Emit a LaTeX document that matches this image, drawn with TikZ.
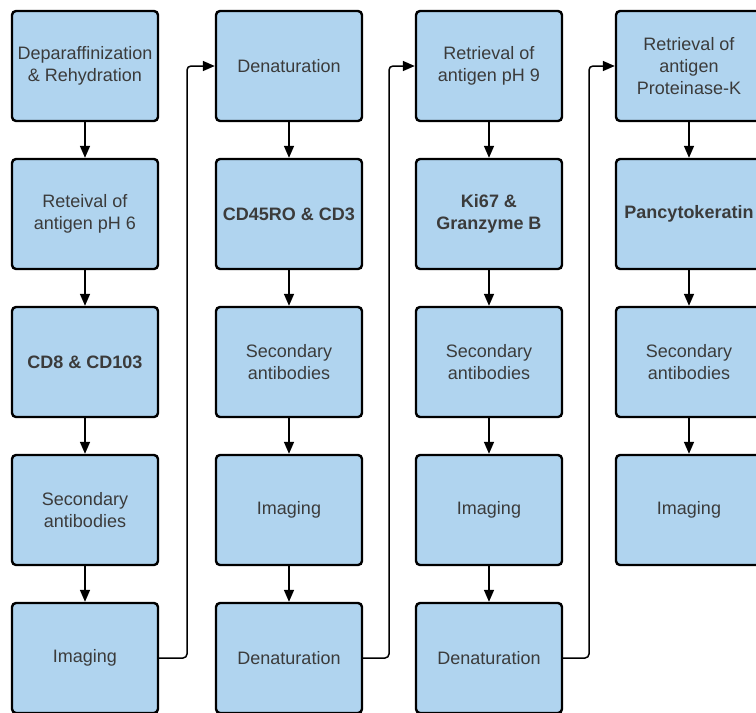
\documentclass[tikz,border=0pt]{standalone}
\usepackage{fontspec}
\setmainfont{Liberation Sans}
\usetikzlibrary{arrows.meta,calc}
\definecolor{boxfill}{HTML}{B0D4EF}
\definecolor{txt}{HTML}{3B3B3B}
\tikzset{
  stepbox/.style={draw=black, fill=boxfill, line width=2.4pt, rounded corners=4pt,
    minimum width=146pt, minimum height=110pt, inner sep=2pt, align=center,
    text=txt, font=\fontsize{18}{22}\selectfont},
  boldbox/.style={stepbox, font=\fontsize{18}{22}\selectfont\bfseries},
  conn/.style={line width=1.5pt, -{Triangle[length=12pt,width=10pt]}},
  route/.style={conn, rounded corners=4pt}
}
\begin{document}
\begin{tikzpicture}[x=1pt,y=-1pt]
\useasboundingbox (0,0) rectangle (756,713);
% column 1
\node[stepbox] (a1) at (85,66) {Deparaffinization\\\& Rehydration};
\node[stepbox] (a2) at (85,214) {Reteival of\\antigen pH 6};
\node[boldbox] (a3) at (85,362) {CD8 \& CD103};
\node[stepbox] (a4) at (85,510) {Secondary\\antibodies};
\node[stepbox] (a5) at (85,658) {Imaging};
% column 2
\node[stepbox] (b1) at (289,66) {Denaturation};
\node[boldbox] (b2) at (289,214) {CD45RO \& CD3};
\node[stepbox] (b3) at (289,362) {Secondary\\antibodies};
\node[stepbox] (b4) at (289,510) {Imaging};
\node[stepbox] (b5) at (289,658) {Denaturation};
% column 3
\node[stepbox] (c1) at (489,66) {Retrieval of\\antigen pH 9};
\node[boldbox] (c2) at (489,214) {Ki67 \&\\Granzyme B};
\node[stepbox] (c3) at (489,362) {Secondary\\antibodies};
\node[stepbox] (c4) at (489,510) {Imaging};
\node[stepbox] (c5) at (489,658) {Denaturation};
% column 4
\node[stepbox] (d1) at (689,66) {Retrieval of\\antigen\\Proteinase-K};
\node[boldbox] (d2) at (689,214) {Pancytokeratin};
\node[stepbox] (d3) at (689,362) {Secondary\\antibodies};
\node[stepbox] (d4) at (689,510) {Imaging};
% vertical arrows
\foreach \c in {a,b,c}{
  \draw[conn] (\c1) -- (\c2);
  \draw[conn] (\c2) -- (\c3);
  \draw[conn] (\c3) -- (\c4);
  \draw[conn] (\c4) -- (\c5);
}
\draw[conn] (d1) -- (d2);
\draw[conn] (d2) -- (d3);
\draw[conn] (d3) -- (d4);
% column-to-column connectors
\coordinate (m1) at ($(a5.east)!0.5!(b5.west)$);
\coordinate (m2) at ($(b5.east)!0.5!(c5.west)$);
\coordinate (m3) at ($(c5.east)!0.5!(d1.west |- c5.east)$);
\draw[route] (a5.east) -- (m1) |- (b1.west);
\draw[route] (b5.east) -- (m2) |- (c1.west);
\draw[route] (c5.east) -- (m3) |- (d1.west);
\end{tikzpicture}
\end{document}
